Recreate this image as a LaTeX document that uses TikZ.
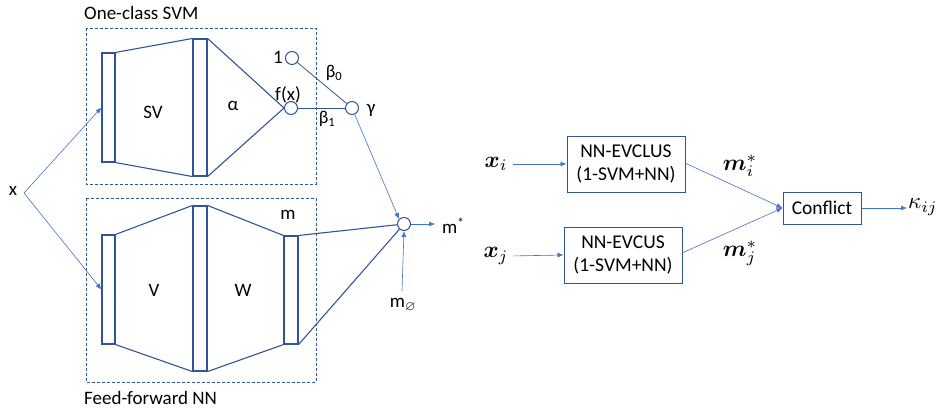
\documentclass[tikz,border=0pt]{standalone}
\usepackage{amsmath,amssymb}
\usepackage{bm}
\usepackage{fontspec}
\setmainfont{Carlito}
\usetikzlibrary{arrows.meta}
\definecolor{shp}{HTML}{2F5597}
\definecolor{arr}{HTML}{4472C4}
\newcommand{\mymath}[1]{\scalebox{2.3}{$#1$}}
\begin{document}
\begin{tikzpicture}[x=1pt,y=-1pt,
  shape line/.style={draw=shp,line width=1.1pt},
  layer/.style={draw=shp,line width=1.1pt,rectangle,inner sep=0pt,fill=white},
  unit/.style={draw=shp,line width=1pt,circle,inner sep=0pt,minimum size=13pt,fill=white},
  dbox/.style={draw=shp,dashed,line width=0.8pt,dash pattern=on 3pt off 2pt},
  arrow/.style={draw=arr,line width=0.6pt,-{Latex[length=6pt,width=5pt]}},
  blk/.style={draw=shp,line width=1pt,rectangle,inner sep=0pt,align=center,font=\fontsize{19.5}{23}\selectfont},
  lbl/.style={inner sep=1pt,font=\fontsize{19}{22}\selectfont},
  mlbl/.style={inner sep=1pt,font=\fontsize{18}{21}\selectfont},
  mth/.style={inner sep=1pt}]
\useasboundingbox (0,0) rectangle (938,408);
% dashed boxes
\draw[dbox] (86,28) rectangle (316,184);
\draw[dbox] (86,198) rectangle (316,382);
\node[lbl,anchor=west] (tsvm) at (83,13) {One-class SVM};
\node[lbl,anchor=west] (tnn) at (83,398) {Feed-forward NN};
% SVM part
\node[layer,minimum width=13pt,minimum height=109pt] (in1) at (108.5,107.5) {};
\node[layer,minimum width=14pt,minimum height=137pt] (mid1) at (200,107.5) {};
\draw[shape line] (in1.north east) -- (mid1.north west);
\draw[shape line] (in1.south east) -- (mid1.south west);
\node[unit] (fx) at (291,108) {};
\node[unit] (one) at (292,58) {};
\node[unit] (gam) at (352,108) {};
\draw[shape line] (mid1.north east) -- (fx.west);
\draw[shape line] (mid1.south east) -- (fx.west);
\draw[shape line,line width=0.8pt] (fx) -- (gam);
\draw[shape line,line width=0.8pt] (one) -- (gam);
\node[lbl] (sv) at (153,112) {SV};
\node[lbl] (alpha) at (233,106) {α};
\node[lbl] (fxl) at (288,95) {f(x)};
\node[lbl] (onel) at (278,57) {1};
\node[mlbl] (b0) at (334,73) {β\textsubscript{0}};
\node[mlbl] (b1) at (327,119) {β\textsubscript{1}};
\node[lbl] (gl) at (371,110) {γ};
% NN part
\node[layer,minimum width=13pt,minimum height=109pt] (in2) at (108.5,289.5) {};
\node[layer,minimum width=14pt,minimum height=165pt] (mid2) at (200,288.5) {};
\node[layer,minimum width=14pt,minimum height=108pt] (mr) at (291,290) {};
\draw[shape line] (in2.north east) -- (mid2.north west);
\draw[shape line] (in2.south east) -- (mid2.south west);
\draw[shape line] (mid2.north east) -- (mr.north west);
\draw[shape line] (mid2.south east) -- (mr.south west);
\node[lbl] (vl) at (154,290) {V};
\node[lbl] (wl) at (243,290) {W};
\node[lbl] (ml) at (288,215) {m};
\node[unit] (out) at (404,224) {};
\draw[shape line] (mr.north east) -- (out);
\draw[shape line] (mr.south east) -- (out);
\draw[arrow] (gam) -- (out.north west);
\coordinate (mst) at (435,224);
\draw[arrow] (out) -- (mst);
\node[lbl,anchor=west] (msl) at (441,226) {m\textsuperscript{*}};
\node[lbl] (mol) at (403,305) {m\textsubscript{$\varnothing$}};
\coordinate (mos) at (402,291);
\draw[arrow] (mos) -- (out.south);
% input x
\node[lbl] (x) at (13,191) {x};
\coordinate (xs) at (24,193);
\draw[arrow] (xs) -- (in1.west);
\draw[arrow] (xs) -- (in2.west);
% right diagram
\node[blk,minimum width=118pt,minimum height=56pt] (bx1) at (626,164) {NN-EVCLUS\\(1-SVM+NN)};
\node[blk,minimum width=118pt,minimum height=56pt] (bx2) at (623,255) {NN-EVCUS\\(1-SVM+NN)};
\node[blk,minimum width=78pt,minimum height=32pt] (cf) at (822,208) {Conflict};
\node[mth] (xi) at (496,164) {\mymath{\bm{x}_i}};
\node[mth] (xj) at (496,256) {\mymath{\bm{x}_j}};
\draw[arrow,shorten <=4pt] (xi.east) -- (bx1.west);
\draw[arrow,shorten <=4pt] (xj.east) -- (bx2.west);
\coordinate (b1e) at (685,163);
\coordinate (b2e) at (682,253);
\draw[arrow] (b1e) -- (cf.west);
\draw[arrow] (b2e) -- (cf.west);
\node[mth] (mi) at (740,166) {\mymath{\bm{m}_i^*}};
\node[mth] (mj) at (740,253) {\mymath{\bm{m}_j^*}};
\coordinate (ke) at (907,208);
\draw[arrow] (cf.east) -- (ke);
\node[mth,anchor=west] (kap) at (907,207) {\mymath{\kappa_{ij}}};
\end{tikzpicture}
\end{document}
